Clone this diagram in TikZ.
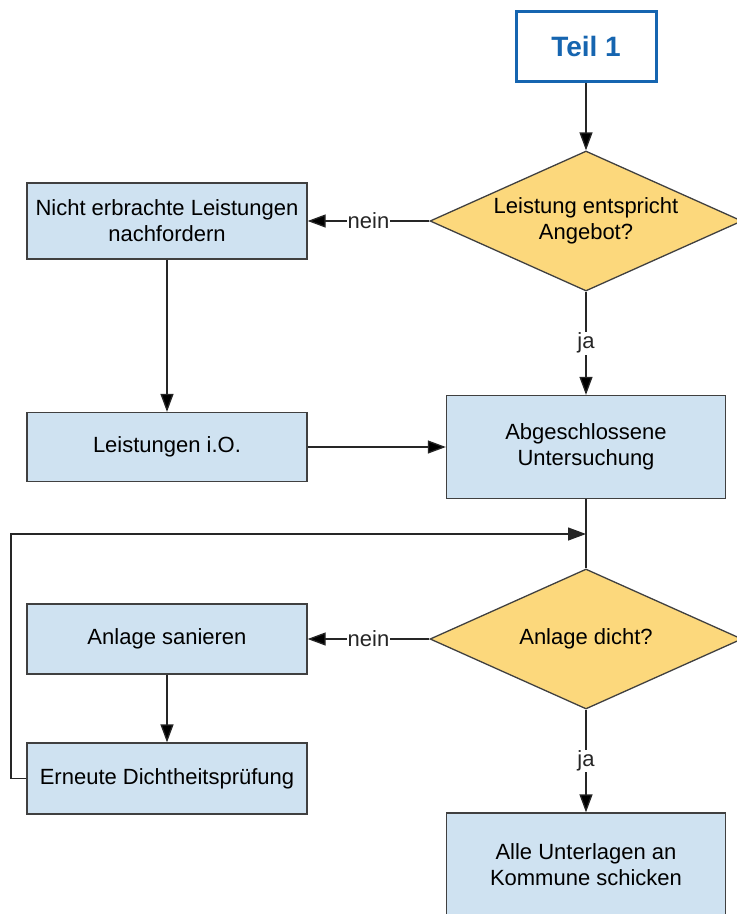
\documentclass[tikz,border=0pt]{standalone}
\usepackage{fontspec}
\setmainfont{Liberation Sans}
\usepackage{xcolor}
\usetikzlibrary{arrows.meta}
\usetikzlibrary{shapes.geometric}
\usetikzlibrary{positioning}

\definecolor{boxblue}{RGB}{207,226,241}
\definecolor{decgold}{RGB}{252,216,124}
\definecolor{rimgray}{RGB}{64,64,64}
\definecolor{teilblue}{RGB}{22,101,176}

\begin{document}
\begin{tikzpicture}[x=1pt,y=-1pt,>={Triangle[length=18pt,width=13pt]},line width=1.3pt,font=\fontsize{22}{26}\selectfont]
	\tikzstyle{proc}=[draw=rimgray, fill=boxblue, rectangle, align=center, inner sep=0pt, minimum width=280pt]
	\tikzstyle{dec}=[draw=rimgray, fill=decgold, diamond, align=center, inner sep=0pt, shape aspect=2.2, minimum width=312pt, minimum height=140pt]
	\tikzstyle{lbl}=[fill=white, inner sep=1pt, text=black!85]
	\tikzstyle{flow}=[->, draw=black!85]
	\useasboundingbox (0,0) rectangle (737,914);
	\clip (0,0) rectangle (737,914);
	\fill[white] (0,0) rectangle (737,914);

	\node[draw=teilblue, line width=3pt, fill=white, minimum width=140pt, minimum height=70pt, text=teilblue, font=\fontsize{28}{32}\selectfont\bfseries] (teil) at (586,46) {Teil 1};
	\node[dec] (leistung) at (586,221) {Leistung entspricht\\Angebot?};
	\node[proc, minimum height=76pt] (nachfordern) at (167,221) {Nicht erbrachte Leistungen\\nachfordern};
	\node[proc, minimum height=69pt] (io) at (167,447) {Leistungen i.O.};
	\node[proc, minimum width=279pt, minimum height=103pt] (abgeschl) at (586,447) {Abgeschlossene\\Untersuchung};
	\node[dec] (dicht) at (586,639) {Anlage dicht?};
	\node[proc, minimum height=70pt] (sanieren) at (167,639) {Anlage sanieren};
	\node[proc, minimum height=71pt] (erneut) at (167,778.5) {Erneute Dichtheitsprüfung};
	\node[proc, minimum width=279pt, minimum height=104pt] (unterlagen) at (586,865) {Alle Unterlagen an\\Kommune schicken};

	\coordinate (loopL) at (11,534);
	\coordinate (merge) at (586,534);

	\path[flow]
		(teil) edge (leistung)
		(leistung) edge node[lbl] {nein} (nachfordern)
		(leistung) edge node[lbl] {ja} (abgeschl)
		(nachfordern) edge (io)
		(io) edge (abgeschl)
		(dicht) edge node[lbl] {nein} (sanieren)
		(dicht) edge node[lbl] {ja} (unterlagen)
		(sanieren) edge (erneut);
	\draw[draw=black!85] (abgeschl) -- (dicht);
	\draw[flow] (erneut.west) -| (loopL) -- (merge);
\end{tikzpicture}
\end{document}
